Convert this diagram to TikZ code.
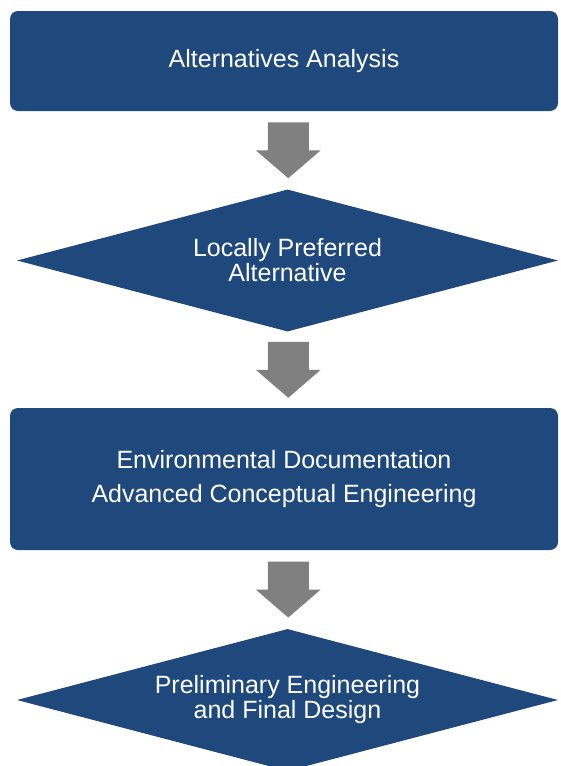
\documentclass[tikz,border=0pt]{standalone}
\usepackage{fontspec}
\setmainfont{Liberation Sans}
\usetikzlibrary{shapes.geometric, calc}
\definecolor{stageblue}{RGB}{31,73,125}
\definecolor{arrowgray}{RGB}{128,128,128}
\tikzset{
  stagebox/.style={rectangle, rounded corners=8pt, fill=stageblue, text=white,
    minimum width=548pt, inner sep=0pt, align=center,
    font=\fontsize{25}{34}\selectfont},
  decision/.style={diamond, fill=stageblue, text=white, minimum width=541pt,
    minimum height=142pt, shape aspect=3.8, inner sep=0pt, align=center,
    font=\fontsize{25}{25}\selectfont}
}

\begin{document}
\begin{tikzpicture}[x=1pt, y=-1pt]
  \clip (0,0) rectangle (560,766);
  \node[stagebox, minimum height=100pt] (analysis) at (284,61) {Alternatives Analysis};
  \node[decision] (lpa) at (287.5,260.5) {Locally Preferred\\Alternative};
  \node[stagebox, minimum height=142pt] (envdoc) at (284,479) {Environmental Documentation\\Advanced Conceptual Engineering};
  \node[decision] (design) at (287.5,700) {Preliminary Engineering\\and Final Design};
  % block arrows between the stages
  \foreach \a/\b in {analysis/lpa, lpa/envdoc, envdoc/design} {
    \coordinate (m) at ($(\a.south)!.5!(\b.north) + (2.5,0)$);
    \fill[arrowgray] (m) ++(-20.5,-28) -- ++(41,0) -- ++(0,28) -- ++(12,0)
      -- ++(-32.5,28) -- ++(-32.5,-28) -- ++(12,0) -- cycle;
  }
\end{tikzpicture}
\end{document}
